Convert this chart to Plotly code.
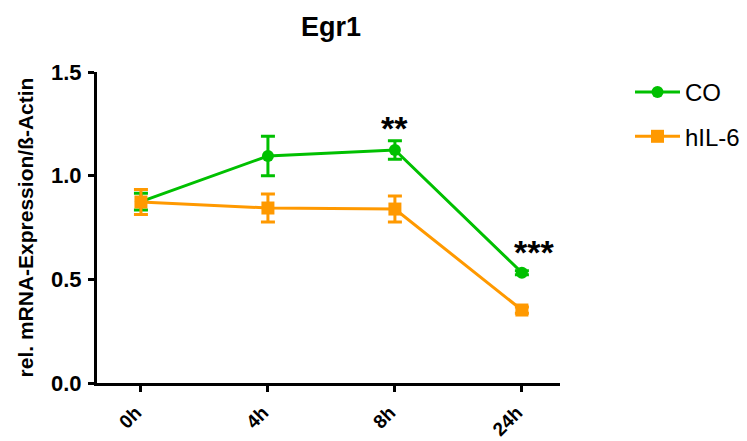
import plotly.graph_objects as go

categories = ["0h", "4h", "8h", "24h"]
co_values = [0.875, 1.095, 1.124, 0.532]
co_errors = [0.04, 0.095, 0.045, 0.01]
il6_values = [0.873, 0.844, 0.839, 0.352]
il6_errors = [0.06, 0.067, 0.063, 0.015]
yticks = [0.0, 0.5, 1.0, 1.5]
ytick_labels = ["0.0", "0.5", "1.0", "1.5"]
sig_labels = ["", "", "**", "***"]

GREEN = "#00C000"
ORANGE = "#FF9900"
FONT = "Liberation Sans, Arial, sans-serif"

xpos = list(range(len(categories)))

fig = go.Figure()
fig.add_trace(go.Scatter(
    x=xpos, y=co_values, name="CO", mode="lines+markers",
    line=dict(color=GREEN, width=3),
    marker=dict(symbol="circle", size=12, color=GREEN),
    error_y=dict(type="data", array=co_errors, color=GREEN, thickness=3, width=7),
    legendrank=1, legendgroup="a",
))
fig.add_trace(go.Scatter(
    x=xpos, y=il6_values, name="hIL-6", mode="lines+markers",
    line=dict(color=ORANGE, width=3),
    marker=dict(symbol="square", size=13, color=ORANGE),
    error_y=dict(type="data", array=il6_errors, color=ORANGE, thickness=3, width=7),
    legendrank=2, legendgroup="b",
))

ann_shift = {"**": (0, -8), "***": (12, -2)}
for i, lab in enumerate(sig_labels):
    if lab:
        top = co_values[i] + co_errors[i]
        dx, dy = ann_shift[lab]
        fig.add_annotation(x=xpos[i], y=top, yanchor="bottom", xshift=dx, yshift=dy,
                           text=f"<b>{lab}</b>", showarrow=False,
                           font=dict(size=34, color="black", family=FONT))

fig.update_layout(
    width=747, height=441,
    margin=dict(l=97, r=187, t=72, b=58),
    plot_bgcolor="white", paper_bgcolor="white",
    font=dict(family=FONT, color="black"),
    title=dict(text="<b>Egr1</b>", x=331 / 747, xanchor="center",
               y=1 - 27 / 441, yanchor="middle", font=dict(size=27)),
    legend=dict(xref="container", yref="container",
                x=630 / 747, y=1 - 70 / 441, xanchor="left", yanchor="top",
                font=dict(size=24), tracegroupgap=10, itemwidth=45,
                bgcolor="rgba(0,0,0,0)"),
    showlegend=True,
)
fig.update_xaxes(
    range=[-0.346, 3.3], tickvals=xpos, ticktext=[f"<b>{c}</b>" for c in categories],
    tickangle=-45, automargin=False, ticklabelshift=-5,
    showline=True, linecolor="black", linewidth=3, ticks="outside",
    ticklen=6, tickwidth=3, tickcolor="black", showgrid=False, zeroline=False,
    tickfont=dict(size=19, family=FONT), ticklabelstandoff=2,
)
fig.update_yaxes(
    range=[0, 1.5], tickvals=yticks, ticktext=[f"<b>{t}</b>" for t in ytick_labels],
    automargin=False,
    showline=True, linecolor="black", linewidth=3, ticks="outside",
    ticklen=6, tickwidth=3, tickcolor="black", showgrid=False, zeroline=False,
    tickfont=dict(size=22, family=FONT), ticklabelstandoff=2,
    title=dict(text="<b>rel. mRNA-Expression/ß-Actin</b>", font=dict(size=21), standoff=12),
)

fig.write_html("out.html")
